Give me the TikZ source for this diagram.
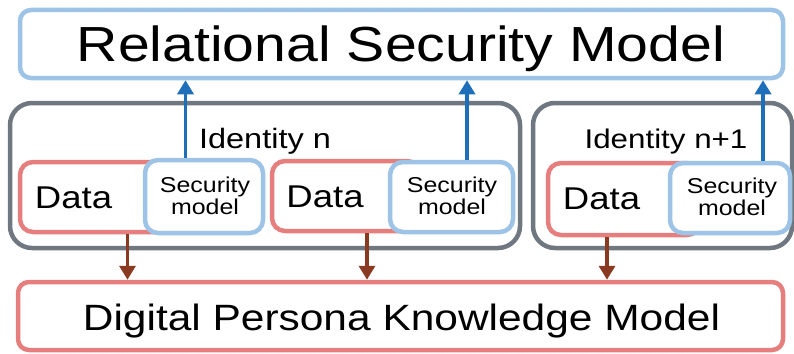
\documentclass[tikz,border=0pt]{standalone}
\usepackage{fontspec}
\usepackage{graphicx}
\setmainfont{Liberation Sans}
\usetikzlibrary{arrows.meta}
\definecolor{lblue}{HTML}{9DC3E6}
\definecolor{lred}{HTML}{E67E7E}
\definecolor{idgray}{HTML}{6F7880}
\definecolor{arrblue}{HTML}{1E6FBA}
\definecolor{arrbrown}{HTML}{8B3A22}
\newcommand{\sx}[1]{\scalebox{1.16}[1]{#1}}
\tikzset{
  box/.style={rectangle, inner sep=0pt, line width=4.5pt, fill=white},
  bigbox/.style={box, draw=lblue, rounded corners=11pt},
  kbox/.style={box, draw=lred, rounded corners=11pt},
  idbox/.style={box, draw=idgray, rounded corners=22pt},
  databox/.style={box, draw=lred, rounded corners=13pt},
  secbox/.style={box, draw=lblue, rounded corners=13pt},
  txt/.style={inner sep=0pt, anchor=base, text=black},
  uparr/.style={draw=arrblue, line width=3.4pt, -{Triangle[width=16pt,length=14pt]}},
  downarr/.style={draw=arrbrown, line width=3.4pt, -{Triangle[width=16pt,length=14pt]}},
}
\begin{document}
\begin{tikzpicture}[x=1pt,y=-1pt]
\useasboundingbox (0,0) rectangle (794,353);
% identity groups
\node[idbox, minimum width=510pt, minimum height=145pt] (idn) at (265,175.5) {};
\node[idbox, minimum width=259pt, minimum height=145pt] (idn1) at (662.5,175.5) {};
% data boxes
\node[databox, minimum width=155pt, minimum height=70pt] (data1) at (97.5,197) {};
\node[databox, minimum width=148pt, minimum height=70pt] (data2) at (346,196) {};
\node[databox, minimum width=152pt, minimum height=72pt] (data3) at (624,199) {};
% security model boxes
\node[secbox, minimum width=118pt, minimum height=73pt] (sec1) at (204,196.5) {};
\node[secbox, minimum width=123pt, minimum height=70pt] (sec2) at (451.5,197) {};
\node[secbox, minimum width=120pt, minimum height=70pt] (sec3) at (730,198) {};
% top and bottom boxes
\node[bigbox, minimum width=763pt, minimum height=68pt] (top) at (401.5,44) {};
\node[kbox, minimum width=765pt, minimum height=68pt] (bottom) at (400.5,316) {};
% texts
\node[txt, font=\fontsize{49.3}{50}\selectfont] (ttop) at (401,62) {\sx{Relational Security Model}};
\node[txt, font=\fontsize{36.6}{38}\selectfont] (tbottom) at (401.5,330) {\sx{Digital Persona Knowledge Model}};
\node[txt, font=\fontsize{28}{30}\selectfont] (tidn) at (265,148) {\sx{Identity n}};
\node[txt, font=\fontsize{27}{29}\selectfont] (tidn1) at (666,148) {\sx{Identity n+1}};
\node[txt, font=\fontsize{31.5}{33}\selectfont] (tdata1) at (73.5,208) {\sx{Data}};
\node[txt, font=\fontsize{31.5}{33}\selectfont] (tdata2) at (325,207) {\sx{Data}};
\node[txt, font=\fontsize{31.5}{33}\selectfont] (tdata3) at (601.5,209) {\sx{Data}};
\node[inner sep=0pt, align=center, font=\fontsize{21.5}{22}\selectfont] (tsec1) at (205,196) {\sx{Security}\\\sx{model}};
\node[inner sep=0pt, align=center, font=\fontsize{21.5}{22}\selectfont] (tsec2) at (452,196) {\sx{Security}\\\sx{model}};
\node[inner sep=0pt, align=center, font=\fontsize{21.5}{22}\selectfont] (tsec3) at (732,197) {\sx{Security}\\\sx{model}};
% arrow columns
\coordinate (ua1) at (185.5,0);
\coordinate (ua2) at (467,0);
\coordinate (ua3) at (763,0);
\coordinate (da1) at (127.5,0);
\coordinate (da2) at (367,0);
\coordinate (da3) at (607,0);
% connectors
\draw[uparr] (sec1.north -| ua1) -- (top.south -| ua1);
\draw[uparr] (sec2.north -| ua2) -- (top.south -| ua2);
\draw[uparr] (sec3.north -| ua3) -- (top.south -| ua3);
\draw[downarr] (data1.south -| da1) -- (bottom.north -| da1);
\draw[downarr] (data2.south -| da2) -- (bottom.north -| da2);
\draw[downarr] (data3.south -| da3) -- (bottom.north -| da3);
\end{tikzpicture}
\end{document}
